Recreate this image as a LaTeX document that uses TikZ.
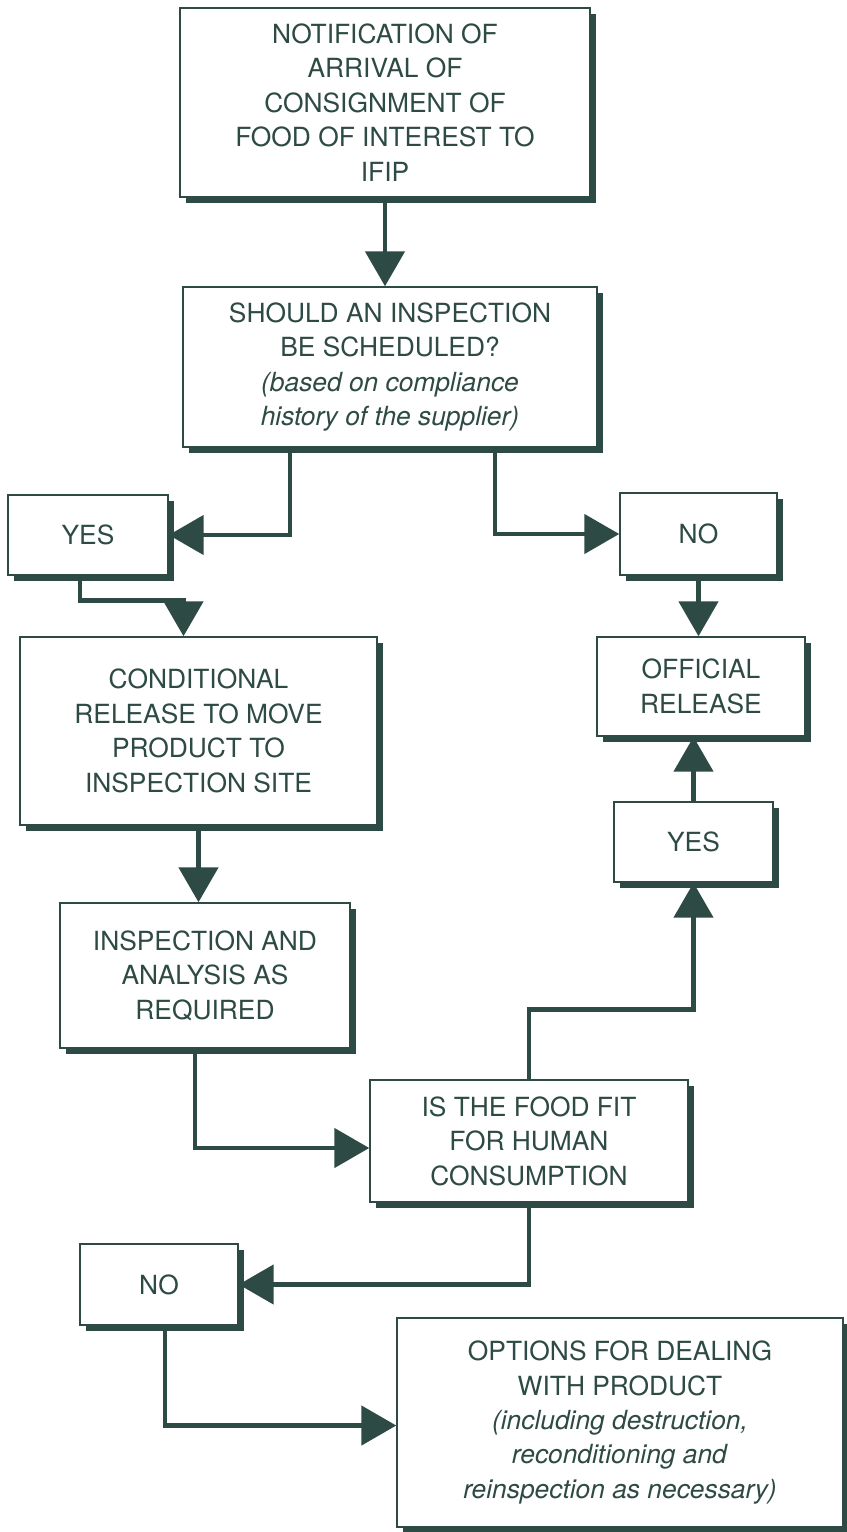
\documentclass[tikz,border=0pt]{standalone}
\usepackage{fontspec}
\setmainfont{TeX Gyre Heros}
\usetikzlibrary{arrows.meta,positioning,shadows}
\definecolor{ink}{HTML}{2E4A44}

\begin{document}
\begin{tikzpicture}[
    x=0.02cm, y=-0.02cm,
    fbox/.style={rectangle, draw=ink, line width=0.85pt, fill=white,
                 align=center, text=ink, inner sep=4pt,
                 font=\fontsize{15}{19.6}\selectfont,
                 drop shadow={shadow xshift=0.12cm, shadow yshift=-0.12cm,
                              fill=ink, opacity=1}},
    flow/.style={ink, line width=2.8pt,
                 -{Triangle[length=0.7cm, width=0.78cm]}}
  ]

  % ---- Page ----
  \useasboundingbox (0,0) rectangle (846,1532);

  % ============ BOXES ============

  % top -- notification
  \node[fbox, minimum width=8.2cm, minimum height=3.78cm]
    (NOTIFY) at (385,102.5)
    {NOTIFICATION OF\\ARRIVAL OF\\CONSIGNMENT OF\\FOOD OF INTEREST TO\\IFIP};

  % inspection decision
  \node[fbox, minimum width=8.28cm, minimum height=3.2cm]
    (SCHED) at (390,367)
    {SHOULD AN INSPECTION\\BE SCHEDULED?\\
     \textit{(based on compliance}\\\textit{history of the supplier)}};

  % first yes / no
  \node[fbox, minimum width=3.2cm, minimum height=1.6cm]
    (YESA) at (88,535) {YES};
  \node[fbox, minimum width=3.14cm, minimum height=1.64cm]
    (NOA) at (698.5,534) {NO};

  % left branch
  \node[fbox, minimum width=7.14cm, minimum height=3.76cm]
    (CONDREL) at (198.5,731)
    {CONDITIONAL\\RELEASE TO MOVE\\PRODUCT TO\\INSPECTION SITE};
  \node[fbox, minimum width=5.8cm, minimum height=2.9cm]
    (INSPECT) at (205,975.5)
    {INSPECTION AND\\ANALYSIS AS\\REQUIRED};

  % right branch
  \node[fbox, minimum width=4.16cm, minimum height=1.98cm]
    (OFFREL) at (701,686.5)
    {OFFICIAL\\RELEASE};
  \node[fbox, minimum width=3.18cm, minimum height=1.6cm]
    (YESB) at (693.5,842) {YES};

  % fitness decision
  \node[fbox, minimum width=6.36cm, minimum height=2.44cm]
    (FIT) at (529,1141)
    {IS THE FOOD FIT\\FOR HUMAN\\CONSUMPTION};
  \node[fbox, minimum width=3.16cm, minimum height=1.62cm]
    (NOB) at (159,1284.5) {NO};

  % bottom -- options
  \node[fbox, minimum width=8.92cm, minimum height=4.18cm]
    (OPTIONS) at (620,1422.5)
    {OPTIONS FOR DEALING\\WITH PRODUCT\\
     \textit{(including destruction,}\\\textit{reconditioning and}\\
     \textit{reinspection as necessary)}};

  % ============ CONNECTORS ============
  \draw[flow] (NOTIFY.south) -- (NOTIFY.south |- SCHED.north);

  \draw[flow] ([xshift=-2cm]SCHED.south) |- (YESA.east);
  \draw[flow] ([xshift=2.1cm]SCHED.south) |- (NOA.west);

  \draw[flow] ([xshift=-0.16cm]YESA.south) -- ++(0,-0.5cm)
    -| ([xshift=-0.3cm]CONDREL.north);
  \draw[flow] (NOA.south) -- (NOA.south |- OFFREL.north);

  \draw[flow] (CONDREL.south) -- (CONDREL.south |- INSPECT.north);
  \draw[flow] ([xshift=-0.2cm]INSPECT.south) |- ([yshift=-0.14cm]FIT.west);

  \draw[flow] (FIT.north) -- ++(0,1.4cm) -| (YESB.south);
  \draw[flow] (YESB.north) -- (YESB.north |- OFFREL.south);

  \draw[flow] (FIT.south) |- (NOB.east);
  \draw[flow] ([xshift=0.12cm]NOB.south) |- ([yshift=-0.06cm]OPTIONS.west);

\end{tikzpicture}
\end{document}
